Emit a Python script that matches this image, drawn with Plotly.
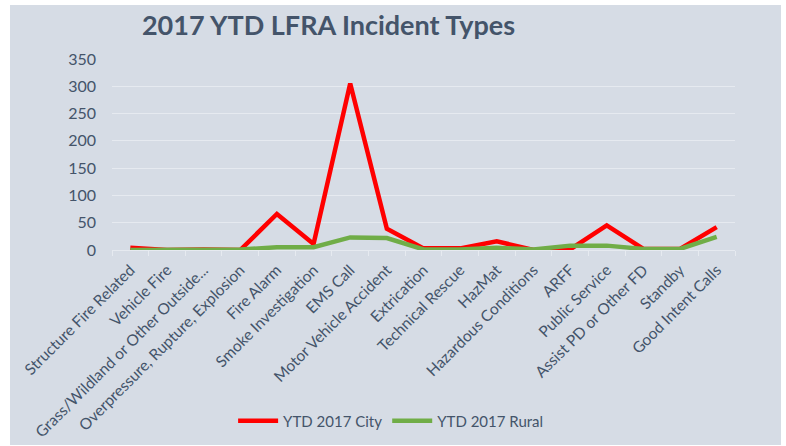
import plotly.graph_objects as go

categories = ["Structure Fire Related", "Vehicle Fire", "Grass/Wildland or Other Outside...",
              "Overpressure, Rupture, Explosion", "Fire Alarm", "Smoke Investigation", "EMS Call",
              "Motor Vehicle Accident", "Extrication", "Technical Rescue", "HazMat",
              "Hazardous Conditions", "ARFF", "Public Service", "Assist PD or Other FD",
              "Standby", "Good Intent Calls"]
city = [4, 0, 1, 0, 66, 11, 305, 39, 3, 3, 16, 0, 1, 45, 2, 2, 42]
rural = [0, 1, 2, 1, 5, 5, 23, 22, 1, 1, 4, 1, 8, 8, 2, 2, 24]
y_ticks = [0, 50, 100, 150, 200, 250, 300, 350]

FONT = "Lato"
TXT = "#44546A"

fig = go.Figure()
fig.add_trace(go.Scatter(x=categories, y=city, mode="lines", name="YTD 2017 City",
                         line=dict(color="#FF0000", width=4.5)))
fig.add_trace(go.Scatter(x=categories, y=rural, mode="lines", name="YTD 2017 Rural",
                         line=dict(color="#70AD47", width=4.5)))

fig.update_layout(
    width=786, height=446,
    margin=dict(l=112, r=51, t=59, b=196, autoexpand=False),
    paper_bgcolor="white",
    plot_bgcolor="rgba(0,0,0,0)",
    font=dict(family=FONT, color=TXT, size=16),
    title=dict(text="<b>2017 YTD LFRA Incident Types</b>", xref="container", yref="container",
               x=0.418, y=0.942, xanchor="center", yanchor="middle",
               font=dict(size=27, color=TXT, family=FONT)),
    showlegend=True,
    legend=dict(orientation="h", x=0.448, y=-0.895, xanchor="center", yanchor="middle",
                font=dict(size=15, color=TXT), bgcolor="rgba(0,0,0,0)", itemwidth=40,
                tracegroupgap=0),
    shapes=[dict(type="rect", xref="paper", yref="paper",
                 x0=(10 - 112) / 623, x1=(781 - 112) / 623,
                 y0=(250 - 445) / 191, y1=(250 - 5) / 191,
                 fillcolor="#D6DCE5", line=dict(width=0), layer="below")],
)
fig.update_xaxes(type="category", range=[-0.5, len(categories) - 0.5],
                 tickangle=-45, tickson="boundaries", ticks="outside", ticklen=5,
                 tickcolor="#E6EAF0", showline=True, linecolor="#E6EAF0", linewidth=1,
                 showgrid=False, tickfont=dict(size=15.5, color=TXT), ticklabelstandoff=4)
fig.update_yaxes(range=[0, 350], tickvals=y_ticks, showgrid=True, gridcolor="#E6EAF0",
                 gridwidth=1, zeroline=False, showline=False,
                 tickfont=dict(size=16, color=TXT), ticks="", ticklabelstandoff=15)

fig.write_html("out.html", config={"displayModeBar": False},
               post_script="document.body.style.margin='0';document.body.style.overflow='hidden';")
